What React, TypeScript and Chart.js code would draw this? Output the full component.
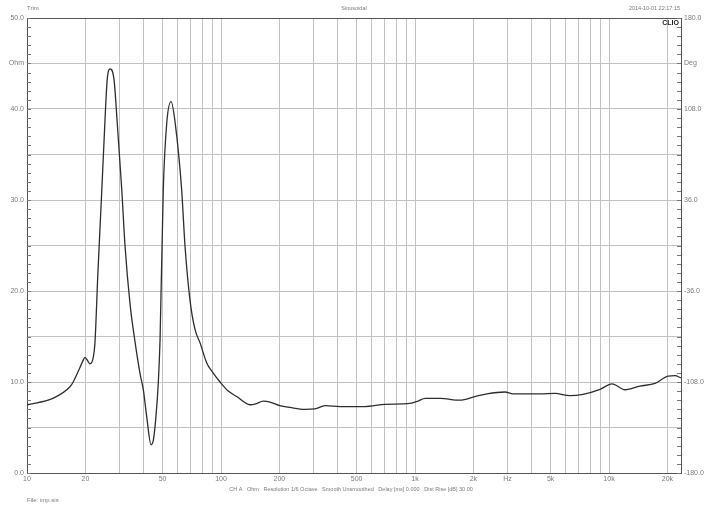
import React, { useEffect, useRef } from "react";
import { Chart, registerables } from "chart.js";

Chart.register(...registerables);

// Impedance curve (frequency in Hz, modulus in Ohm)
const FREQ = [
  10, 13.6, 16.7, 17.3, 18.3, 19.5, 19.9, 20.6, 21.1, 22.0, 22.4, 23.2, 24.3, 25.2, 25.9, 26.8,
  28.1, 29.2, 30.8, 32.0, 34.0, 36.0, 38.2, 39.8, 41.4, 43.6, 44.8, 46.2, 47.5, 48.5, 50.4,
  52.5, 55.3, 58.1, 62.7, 65.2, 69.2, 73.4, 78, 84.4, 91, 98.9, 109, 120.5, 141, 151, 165,
  179, 201, 227, 271, 305, 344, 411, 552, 700, 942, 1036, 1127, 1346, 1706, 2038, 2350,
  2910, 3200, 4410, 5270, 6290, 7340, 8990, 10360, 12080, 14450, 17260, 20140, 21880, 23500,
];
const OHM = [
  7.5, 8.2, 9.5, 10.0, 11.1, 12.4, 12.7, 12.3, 12.0, 12.8, 14.3, 22.0, 31.1, 38.5, 43.2, 44.4,
  43.2, 38.4, 31.1, 25.0, 18.5, 14.5, 11.0, 9.1, 6.2, 3.1, 3.6, 6.2, 9.9, 14.6, 31.1,
  38.4, 40.8, 38.4, 31.1, 25.0, 19.0, 15.8, 14.3, 12.1, 11.0, 10.0, 9.0, 8.4, 7.5, 7.6, 7.9,
  7.8, 7.4, 7.2, 7.0, 7.05, 7.4, 7.3, 7.3, 7.55, 7.65, 7.9, 8.2, 8.2, 8.0, 8.4, 8.7,
  8.9, 8.7, 8.7, 8.75, 8.5, 8.65, 9.2, 9.8, 9.15, 9.55, 9.85, 10.65, 10.7, 10.45,
];

// Axis ticks / labels
const X_GRID = [10, 20, 30, 40, 50, 60, 70, 80, 90, 100, 200, 300, 400, 500, 600, 700, 800, 900,
  1000, 2000, 3000, 4000, 5000, 6000, 7000, 8000, 9000, 10000, 20000];
const X_LABELS = ["10", "20", "", "", "50", "", "", "", "", "100", "200", "", "", "500", "", "", "", "",
  "1k", "2k", "Hz", "", "5k", "", "", "", "", "10k", "20k"];
const Y_TICKS = [0, 5, 10, 15, 20, 25, 30, 35, 40, 45, 50];
const Y_LABELS = ["0.0", "", "10.0", "", "20.0", "", "30.0", "", "40.0", "Ohm", "50.0"];
const PHASE_TICKS = [-180, -108, -36, 36, 108, 144, 180];
const PHASE_LABELS = ["-180.0", "-108.0", "-36.0", "36.0", "108.0", "Deg", "180.0"];

const HEADER_LEFT = "Trim";
const HEADER_MID = "Sinusoidal";
const HEADER_RIGHT = "2014-10-01 22:17:15";
const BRAND = "CLIO";
const FOOTER = "CH A   Ohm   Resolution 1/6 Octave   Smooth Unsmoothed   Delay [ms] 0.000   Dist Rise [dB] 30.00";
const FILE_LABEL = "File: imp.sis";

const FONT = "'Liberation Sans', Arial, sans-serif";
const LABEL_COLOR = "#7a7a7a";

const decor = {
  id: "decor",
  afterDraw(chart: any) {
    const ctx = chart.ctx as CanvasRenderingContext2D;
    const a = chart.chartArea;
    const ys = chart.scales.y;
    ctx.save();
    // minor ticks inside the plot on both vertical axes
    ctx.strokeStyle = "#777";
    ctx.lineWidth = 1;
    for (let v = 0; v <= 50; v++) {
      const py = Math.round(ys.getPixelForValue(v)) + 0.5;
      ctx.beginPath();
      ctx.moveTo(a.left, py);
      ctx.lineTo(a.left + 4, py);
      ctx.moveTo(a.right - 4, py);
      ctx.lineTo(a.right, py);
      ctx.stroke();
    }
    // texts
    ctx.fillStyle = LABEL_COLOR;
    ctx.textBaseline = "middle";
    ctx.font = `6px ${FONT}`;
    ctx.textAlign = "left";
    ctx.fillText(HEADER_LEFT, 27, 8);
    ctx.font = `5.5px ${FONT}`;
    ctx.textAlign = "center";
    ctx.fillText(HEADER_MID, 354, 8);
    ctx.textAlign = "right";
    ctx.fillText(HEADER_RIGHT, 680, 8);
    ctx.textAlign = "center";
    ctx.fillText(FOOTER, 351, 489);
    ctx.font = `6px ${FONT}`;
    ctx.textAlign = "left";
    ctx.fillText(FILE_LABEL, 27, 500);
    ctx.fillStyle = "#222";
    ctx.font = `bold 7px ${FONT}`;
    ctx.textAlign = "right";
    ctx.fillText(BRAND, a.right - 2, a.top + 5);
    ctx.restore();
  },
};

export default function App() {
  const ref = useRef<HTMLCanvasElement | null>(null);

  useEffect(() => {
    if (!ref.current) return;
    const data = FREQ.map((f, i) => ({ x: f, y: OHM[i] }));
    const tickFont = { family: FONT, size: 7 };
    const chart = new Chart(ref.current, {
      type: "line",
      data: {
        datasets: [
          {
            data,
            borderColor: "#2e2e2e",
            borderWidth: 1.3,
            pointRadius: 0,
            cubicInterpolationMode: "monotone",
            fill: false,
            yAxisID: "y",
          },
        ],
      },
      options: {
        animation: false,
        responsive: false,
        parsing: false as any,
        layout: { padding: { top: 18, left: 0, right: 0, bottom: 0 } },
        plugins: { legend: { display: false }, tooltip: { enabled: false } },
        scales: {
          x: {
            type: "logarithmic",
            min: 10,
            max: 23500,
            afterBuildTicks: (s: any) => {
              s.ticks = X_GRID.map((v) => ({ value: v }));
            },
            afterFit: (s: any) => {
              s.height = 37;
            },
            ticks: {
              autoSkip: false,
              maxRotation: 0,
              minRotation: 0,
              padding: 2,
              color: LABEL_COLOR,
              font: tickFont,
              callback: (_v: any, i: number) => X_LABELS[i],
            },
            grid: { color: "#c2c2c2", lineWidth: 1, drawTicks: false },
            border: { color: "#555", width: 1 },
          },
          y: {
            type: "linear",
            position: "left",
            min: 0,
            max: 50,
            afterBuildTicks: (s: any) => {
              s.ticks = Y_TICKS.map((v) => ({ value: v }));
            },
            afterFit: (s: any) => {
              s.width = 27;
            },
            ticks: {
              padding: 3,
              color: LABEL_COLOR,
              font: tickFont,
              callback: (_v: any, i: number) => Y_LABELS[i],
            },
            grid: {
              color: (c: any) => (c.tick && c.tick.value === 50 ? "#555" : "#c2c2c2"),
              lineWidth: 1,
              drawTicks: false,
            },
            border: { color: "#555", width: 1 },
          },
          y2: {
            type: "linear",
            position: "right",
            min: -180,
            max: 180,
            afterBuildTicks: (s: any) => {
              s.ticks = PHASE_TICKS.map((v) => ({ value: v }));
            },
            afterFit: (s: any) => {
              s.width = 27;
            },
            ticks: {
              padding: 3,
              color: LABEL_COLOR,
              font: tickFont,
              callback: (_v: any, i: number) => PHASE_LABELS[i],
            },
            grid: { drawOnChartArea: false, drawTicks: false },
            border: { color: "#555", width: 1 },
          },
        },
      } as any,
      plugins: [decor],
    });
    return () => chart.destroy();
  }, []);

  return (
    <div style={{ position: "fixed", left: 0, top: 0, width: 708, height: 510, background: "#fff" }}>
      <canvas ref={ref} width={708} height={510} style={{ width: 708, height: 510, display: "block" }} />
    </div>
  );
}
